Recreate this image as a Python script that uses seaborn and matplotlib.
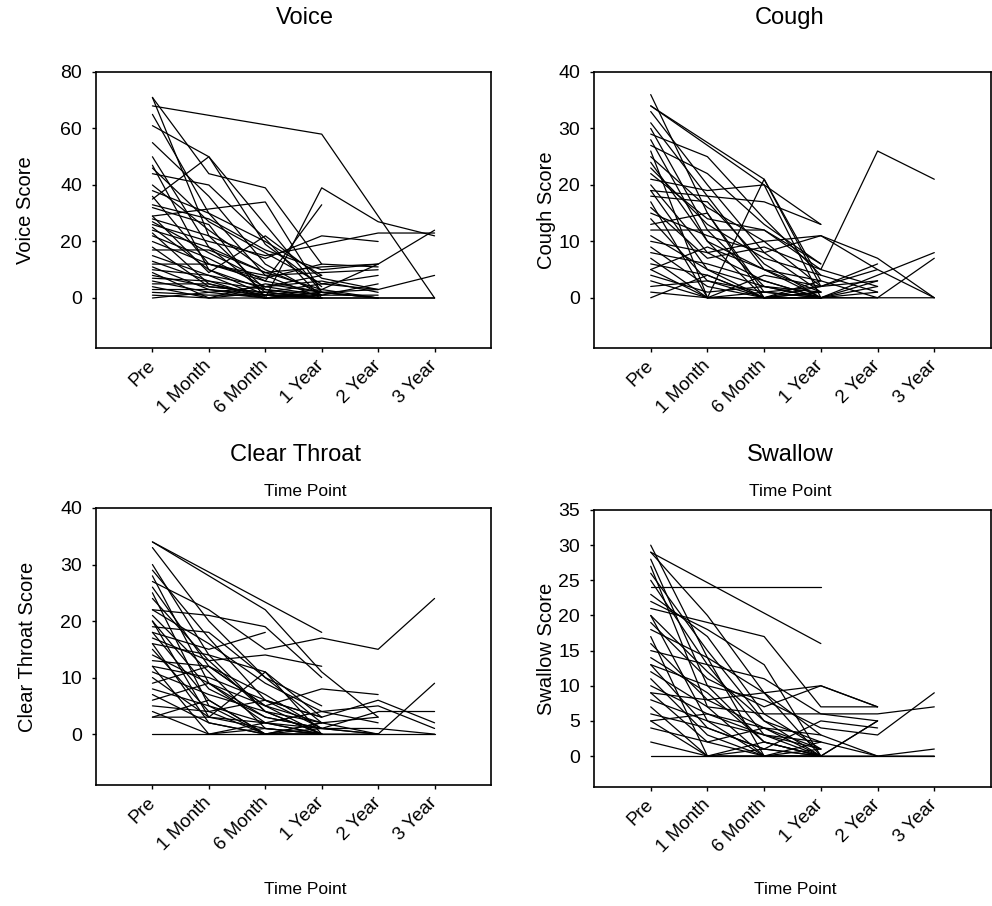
import numpy as np
import pandas as pd
import matplotlib
matplotlib.use("Agg")
import matplotlib.pyplot as plt
import seaborn as sns

na = np.nan

# Zeitpunkte / time points
time_points = ["Pre", "1 Month", "6 Month", "1 Year", "2 Year", "3 Year"]

# one row per patient, columns follow time_points (nan = not measured)
voice = [
    [68, na, na, 58, na, 0], [71, 44, 39, 12, na, na], [71, 22, 3, na, na, na],
    [61, 50, 19, 4, na, na], [35, 50, 26, 2, na, na], [65, 30, 8, 0, na, na],
    [55, 36, 12, 1, na, na], [50, 18, 2, 0, na, na], [46, 27, 16, 5, 3, na],
    [44, 40, 21, 0, na, na], [40, 24, 10, 2, 0, na], [36, 12, 6, 2, na, na],
    [33, 28, 17, 10, 12, 24], [32, 26, 0, 39, 27, 22], [29, na, 34, 2, na, na],
    [28, 22, 14, 22, 20, na], [27, 16, 6, 33, na, na], [26, 20, 15, 19, 23, 23],
    [25, 10, 3, 0, 0, 0], [24, 18, 9, 11, 12, na], [23, 5, 0, 2, 3, 8],
    [22, 14, 4, 8, na, na], [20, 12, 7, 12, 11, na], [18, 4, 2, 0, na, na],
    [17, 17, 9, 3, 12, na], [15, 8, 0, 2, 0, na], [13, 6, 3, 1, 5, na],
    [12, 12, 8, 9, 10, na], [11, 3, 1, 0, na, na], [10, 8, 4, 6, 2, na],
    [9, 0, 5, 2, na, na], [8, 4, 2, 5, 8, na], [7, 6, 0, 0, 0, na],
    [6, 2, 4, 1, na, na], [5, 5, 1, 3, 0, 0], [4, 0, 2, 0, na, na],
    [3, 3, 0, 1, 1, na], [2, 1, 1, 0, na, na], [1, 0, 0, 2, 0, na],
    [0, 2, 0, 0, na, na], [47, 10, 1, 0, na, na], [38, 30, 20, 8, na, na],
    [29, 9, 22, 7, 3, na],
]

cough = [
    [36, 15, 0, na, na, na], [34, na, 21, 2, na, na], [34, na, na, 13, na, na],
    [33, 20, 8, 1, na, na], [31, 18, 5, 0, na, na], [30, 12, 2, 0, 0, na],
    [29, 25, 14, 4, na, na], [27, 22, 13, 6, na, na], [26, 0, 0, 3, na, na],
    [25, 16, 10, 2, 6, na], [24, 10, 5, 1, na, na], [22, 14, 12, 5, 2, na],
    [21, 19, 20, 0, na, na], [20, 8, 3, 0, 0, 0], [19, na, 17, 13, na, na],
    [19, 5, 0, 1, na, na], [18, 17, 6, 0, 3, na], [17, 0, 4, 2, na, na],
    [16, 7, 9, 5, 26, 21], [15, 11, 8, 11, 7, 0], [14, 3, 0, 0, na, na],
    [12, 12, 12, 6, na, na], [11, 5, 2, 0, 2, na], [10, 8, 10, 11, 5, 0],
    [9, 2, 0, 1, na, na], [8, 6, 3, 0, 4, 8], [7, 0, 1, 2, 5, na],
    [6, 4, 0, 0, na, na], [5, 9, 5, 3, 0, 7], [4, 1, 2, 1, na, na],
    [3, 0, 0, 0, 1, na], [2, 3, 1, 0, na, na], [1, 0, 0, 2, 3, na],
    [5, 0, 21, 3, na, na], [0, 4, 0, 0, na, na], [13, 15, 1, 0, na, na],
    [28, 10, 0, 0, na, na], [23, 13, 7, 4, 1, na],
]

clear_throat = [
    [34, 28, 22, 11, 3, na], [34, na, na, 18, na, na], [33, 20, 10, 2, na, na],
    [30, 14, 4, 0, na, na], [29, 17, 6, 1, 0, na], [28, 9, 2, 0, na, na],
    [27, 22, 15, 17, 15, 24], [26, 12, 5, 2, na, na], [25, 5, 0, 0, na, na],
    [22, 21, 19, 10, na, na], [22, 16, 9, 4, 2, na], [21, 11, 1, 0, na, na],
    [20, 8, 3, 1, 0, na], [19, 18, 10, 5, na, na], [18, 15, 18, na, na, na],
    [18, 6, 0, 2, na, na], [17, 13, 14, 12, na, na], [16, 14, 11, 3, na, na],
    [15, 4, 0, 1, 4, 4], [14, 9, 5, 0, 0, 9], [13, 12, 5, 8, 7, na],
    [12, 0, 2, 0, na, na], [12, 10, 6, 3, 6, 2], [11, 7, 4, 2, 3, na],
    [10, 3, 1, 0, na, na], [9, 12, 7, 1, na, na], [8, 5, 2, 4, 5, 1],
    [7, 2, 0, 0, na, na], [6, 9, 3, 1, 1, 0], [5, 4, 6, 3, na, na],
    [4, 0, 1, 0, na, na], [3, 6, 0, 2, 0, na], [3, 3, 2, 1, na, na],
    [0, 0, 0, 0, 0, 0], [20, 3, 11, 0, na, na], [24, 13, 4, 0, na, na],
    [16, 2, 0, 0, na, na],
]

swallow = [
    [30, 14, 0, na, na, na], [29, na, na, 16, na, na], [29, 20, 9, 0, na, na],
    [28, 10, 2, 0, na, na], [24, na, na, 24, na, na], [25, 13, 3, 0, na, na],
    [23, 17, 6, 1, na, na], [22, 18, 13, 0, na, na], [21, na, 17, 7, 7, na],
    [20, 12, 5, 2, 0, na], [20, 5, 0, 0, na, na], [19, 11, 7, 10, 7, na],
    [18, 14, 9, 3, na, na], [17, 0, 0, 1, na, na], [16, 8, 4, 0, 5, na],
    [15, 13, 11, 6, 6, 7], [14, 9, 2, 0, na, na], [13, 10, 8, 4, 3, 9],
    [13, 4, 1, 0, na, na], [12, 7, 6, 6, 5, na], [11, 3, 0, 2, na, na],
    [10, 6, 4, 3, 0, 1], [9, 8, 9, 10, 7, na], [9, 2, 0, 0, 5, na],
    [8, 5, 3, 1, na, na], [7, 0, 2, 0, na, na], [6, 4, 1, 5, 4, na],
    [5, 6, 3, 2, na, na], [5, 0, 0, 0, 0, 0], [4, 2, 4, 1, na, na],
    [2, 0, 1, 0, na, na], [0, 0, 0, 0, 0, 0], [26, 15, 5, 0, na, na],
    [27, 7, 0, na, na, na],
]

panels = [
    # data, title, ylabel, ylim, yticks
    (voice, "Voice", "Voice Score", (-17.7, 80), [0, 20, 40, 60, 80]),
    (cough, "Cough", "Cough Score", (-8.9, 40), [0, 10, 20, 30, 40]),
    (clear_throat, "Clear Throat", "Clear Throat Score", (-9.0, 40), [0, 10, 20, 30, 40]),
    (swallow, "Swallow", "Swallow Score", (-4.4, 35), [0, 5, 10, 15, 20, 25, 30, 35]),
]

sns.set_style("ticks")
plt.rcParams["font.family"] = ["Liberation Sans", "DejaVu Sans"]
plt.rcParams["text.color"] = "black"
plt.rcParams["axes.labelcolor"] = "black"
plt.rcParams["xtick.color"] = "black"
plt.rcParams["ytick.color"] = "black"

W, H = 992, 906
fig = plt.figure(figsize=(W / 100, H / 100), dpi=100)

# axes boxes in pixels: left, top, right, bottom
boxes = [(96, 72, 491, 348), (594, 72, 991, 348),
         (96, 508, 491, 785), (594, 510, 991, 787)]
# title / xlabel centres (pixels)
title_pos = [(305, 18), (790, 18), (296, 455), (790, 455)]
xlab_pos = [(305, 492), (790, 492), (305, 890), (795, 890)]
ylab_x = [26, 547, 28, 547]

for i, (rows, title, ylab, ylim, yticks) in enumerate(panels):
    l, t, r, b = boxes[i]
    ax = fig.add_axes([l / W, 1 - b / H, (r - l) / W, (b - t) / H])

    df = pd.DataFrame(rows, columns=time_points)
    df["subject"] = np.arange(len(df))
    long = df.melt(id_vars="subject", var_name="time", value_name="score").dropna()
    long["t"] = long["time"].map({k: j for j, k in enumerate(time_points)})
    long = long.sort_values(["subject", "t"])

    sns.lineplot(data=long, x="t", y="score", units="subject", estimator=None,
                 color="black", lw=0.9, sort=True, ax=ax, legend=False)

    ax.set_xlim(-1, 6)
    ax.set_ylim(*ylim)
    ax.set_yticks(yticks)
    ax.set_xticks(range(len(time_points)))
    ax.set_xticklabels(time_points, rotation=45, ha="right", va="center",
                       rotation_mode="anchor", fontsize=13.5)
    ax.tick_params(axis="y", labelsize=14, length=3, width=1, pad=7)
    ax.tick_params(axis="x", length=3, width=1, pad=8)
    for s in ax.spines.values():
        s.set_visible(True)
        s.set_linewidth(1.2)
        s.set_color("black")

    w_px, h_px = r - l, b - t
    ax.text((title_pos[i][0] - l) / w_px, (t - title_pos[i][1]) / h_px + 1,
            title, transform=ax.transAxes, ha="center", va="center", fontsize=17)
    ax.set_xlabel("Time Point", fontsize=12.5)
    ax.xaxis.label.set_va("center")
    ax.xaxis.set_label_coords((xlab_pos[i][0] - l) / w_px, -(xlab_pos[i][1] - b) / h_px)
    ax.set_ylabel(ylab, fontsize=14.5)
    ax.yaxis.label.set_va("center")
    ax.yaxis.set_label_coords((ylab_x[i] - l) / w_px, 0.5)

fig.savefig("out.png", dpi=100)
